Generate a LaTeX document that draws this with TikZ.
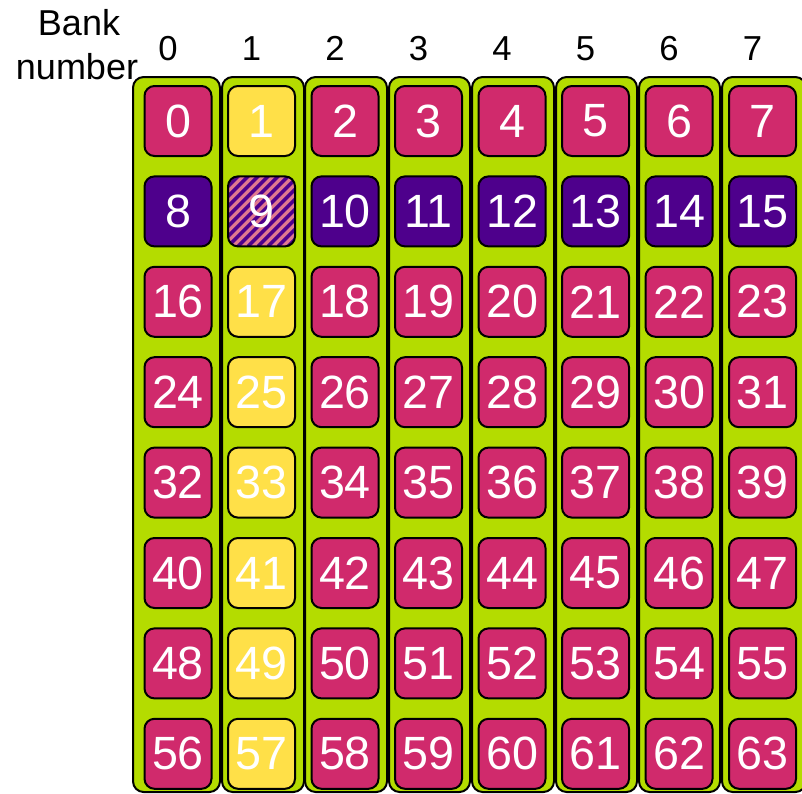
\documentclass[tikz,border=0pt]{standalone}
\usepackage{fontspec}
\setmainfont{Liberation Sans}
\definecolor{bankgreen}{HTML}{B4DC00}
\definecolor{cellmag}{HTML}{D02A6C}
\definecolor{cellpur}{HTML}{4E008C}
\definecolor{cellyel}{HTML}{FFE048}
\definecolor{hatchpink}{HTML}{E07890}
\tikzset{
  colbox/.style={draw=black, line width=1.5pt, fill=bankgreen, rounded corners=8pt, minimum height=536.25pt, inner sep=0pt},
  cellbox/.style={draw=black, line width=1.5pt, rounded corners=7.5pt, minimum width=50.25pt, minimum height=52.5pt, inner sep=0pt, text=white, font=\fontsize{35}{35}\selectfont},
  headlbl/.style={font=\fontsize{26}{26}\selectfont, inner sep=0pt, anchor=base},
}
\begin{document}
\begin{tikzpicture}[x=0.75pt,y=-0.75pt]
\useasboundingbox (0,0) rectangle (802,793);
\clip (0,0) rectangle (802,793);
% bank columns
\foreach \i/\cx/\w in {0/176.5/87, 1/263/82, 2/346/82, 3/429.5/81, 4/513/82, 5/596.5/81, 6/679.5/81, 7/764/84}{
  \node[colbox, minimum width=\w*0.75pt] (col\i) at (\cx,434.5) {};
}
% header
\node[headlbl, font=\fontsize{27}{27}\selectfont] (banklbl) at (79,35) {Bank};
\node[headlbl, font=\fontsize{27}{27}\selectfont] (numlbl) at (77,79) {number};
\foreach \i in {0,...,7}{
  \node[headlbl] (h\i) at ({168+83.5*\i},60) {\i};
}
% cells
\foreach \r in {0,...,7}{
  \foreach \c in {0,...,7}{
    \pgfmathtruncatemacro{\n}{8*\r+\c}
    \ifnum\c=1
      \ifnum\r=1
        \def\cellcol{hatchpink}
      \else
        \def\cellcol{cellyel}
      \fi
    \else
      \ifnum\r=1
        \def\cellcol{cellpur}
      \else
        \def\cellcol{cellmag}
      \fi
    \fi
    \ifnum\n=9
      \node[cellbox, fill=hatchpink, path picture={
        \foreach \k in {-9,...,8}{
          \draw[cellpur, line width=2.6pt] ([xshift=\k*7.5pt]path picture bounding box.south west) -- ++(70pt,70pt);
        }
      }] (c\n) at ({178+83.5*\c},{121+90.4*\r}) {\n};
    \else
      \node[cellbox, fill=\cellcol] (c\n) at ({178+83.5*\c},{121+90.4*\r}) {\n};
    \fi
  }
}
\end{tikzpicture}
\end{document}
